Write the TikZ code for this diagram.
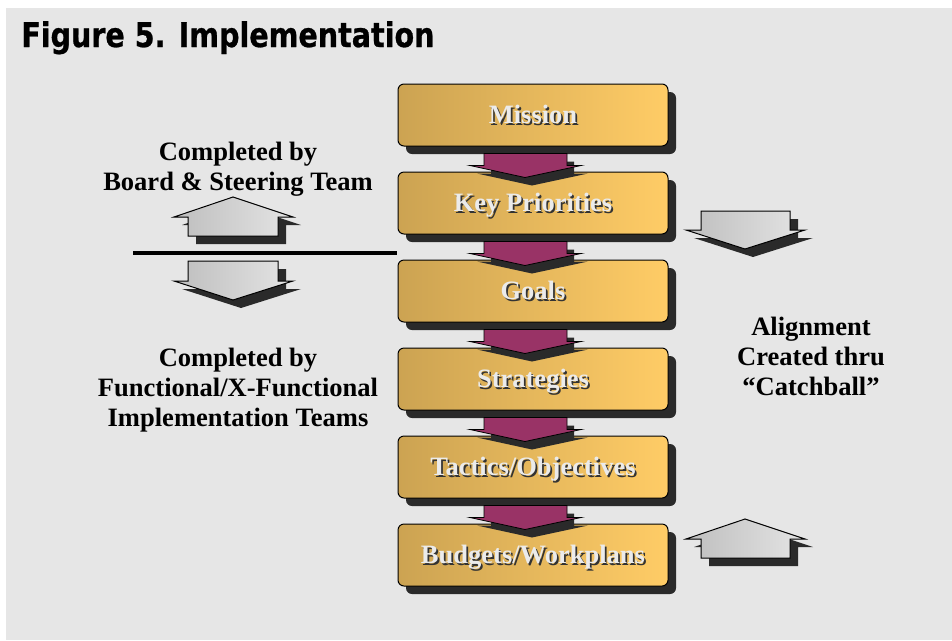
\documentclass[tikz,border=0pt]{standalone}
\usepackage{fontspec}
\setmainfont{Liberation Serif}
\newfontfamily\titlefont[FakeStretch=0.84,BoldFeatures={FakeBold=0.8}]{DejaVu Sans}
\usetikzlibrary{shadows,calc}
\definecolor{bgc}{HTML}{E6E6E6}
\definecolor{boxL}{HTML}{CCA352}
\definecolor{boxR}{HTML}{FFCC66}
\definecolor{purc}{HTML}{993366}
\definecolor{shadc}{HTML}{2A2A2A}
\definecolor{grL}{HTML}{BEBEBE}
\definecolor{grR}{HTML}{E4E4E4}
\newcommand\boxtxt[1]{\makebox[0pt][l]{\hspace{1.3pt}\raisebox{-1.3pt}{\color{black!80}#1}}{\color{white!92!black}#1}}
\newcommand\purarr[2]{%
  \fill[shadc, shift={($(#2.north)+(7,8)$)}] (-49,-18) -- (-49,-6) -- (-63,-6) -- (-8,6) -- (48,-6) -- (34,-6) -- (34,-18) -- cycle;
  \draw[purarrow, shift={(#2.north)}] (-49,-18) -- (-49,-6) -- (-63,-6) -- (-8,6) -- (48,-6) -- (34,-6) -- (34,-18) -- cycle;}
\begin{document}
\begin{tikzpicture}[x=0.75pt,y=-0.75pt,
  stepbox/.style={rectangle, rounded corners=4.5pt, minimum width=202.5pt, minimum height=46.5pt,
    draw=black, line width=0.75pt, left color=boxL, right color=boxR,
    drop shadow={shadow xshift=6pt, shadow yshift=-6pt, fill=shadc, opacity=1},
    font=\bfseries\fontsize{19.9}{22.5}\selectfont, text height=13.2pt, text depth=0pt},
  purarrow/.style={fill=purc, draw=black, line width=0.6pt, line join=miter},
  grayarr/.style={left color=grL, right color=grR, draw=black, line width=0.75pt},
  grayshad/.style={fill=shadc},
  lbl/.style={align=center, font=\bfseries\fontsize{19.9}{22.5}\selectfont}]
\useasboundingbox (0,0) rectangle (952,640);
\fill[white] (0,0) rectangle (952,640);
\fill[bgc] (6,8) rectangle (952,640);
% title
\node[anchor=base west, inner sep=0pt, font=\titlefont\bfseries\fontsize{25.5}{30}\selectfont] (title) at (21,47) {Figure 5. Implementation};
% boxes
\node[stepbox] (mission) at (533,115) {\boxtxt{Mission}};
\node[stepbox] (prio) at (533,203) {\boxtxt{Key Priorities}};
\node[stepbox] (goals) at (533,291) {\boxtxt{Goals}};
\node[stepbox] (strat) at (533,379) {\boxtxt{Strategies}};
\node[stepbox] (tact) at (533,467) {\boxtxt{Tactics/Objectives}};
\node[stepbox] (budg) at (533,555) {\boxtxt{Budgets/Workplans}};
% purple arrows
\purarr{mission}{prio}
\purarr{prio}{goals}
\purarr{goals}{strat}
\purarr{strat}{tact}
\purarr{tact}{budg}
% left gray up arrow
\fill[grayshad, shift={(8,8)}] (188,236) -- (188,217) -- (174,217) -- (233,197) -- (293,217) -- (278,217) -- (278,236) -- cycle;
\draw[grayarr] (188,236) -- (188,217) -- (174,217) -- (233,197) -- (293,217) -- (278,217) -- (278,236) -- cycle;
% divider
\coordinate (divL) at (133,253);
\coordinate (divR) at (397,253);
\draw[line width=3pt] (divL) -- (divR);
% left gray down arrow
\fill[grayshad, shift={(8,8)}] (188,261) -- (278,261) -- (278,281) -- (293,281) -- (233,300) -- (174,281) -- (188,281) -- cycle;
\draw[grayarr] (188,261) -- (278,261) -- (278,281) -- (293,281) -- (233,300) -- (174,281) -- (188,281) -- cycle;
% right gray down arrow
\fill[grayshad, shift={(8,8)}] (701,211) -- (790,211) -- (790,230) -- (805,230) -- (745,249) -- (686,230) -- (701,230) -- cycle;
\draw[grayarr] (701,211) -- (790,211) -- (790,230) -- (805,230) -- (745,249) -- (686,230) -- (701,230) -- cycle;
% right gray up arrow
\fill[grayshad, shift={(8,8)}] (701,558) -- (701,539) -- (686,539) -- (745,519) -- (805,539) -- (790,539) -- (790,558) -- cycle;
\draw[grayarr] (701,558) -- (701,539) -- (686,539) -- (745,519) -- (805,539) -- (790,539) -- (790,558) -- cycle;
% labels
\node[lbl] (board) at (238,169) {Completed by\\Board \& Steering Team};
\node[lbl] (func) at (238,390) {Completed by\\Functional/X-Functional\\Implementation Teams};
\node[lbl] (align) at (811,356) {Alignment\\Created thru\\“Catchball”};
\end{tikzpicture}
\end{document}
